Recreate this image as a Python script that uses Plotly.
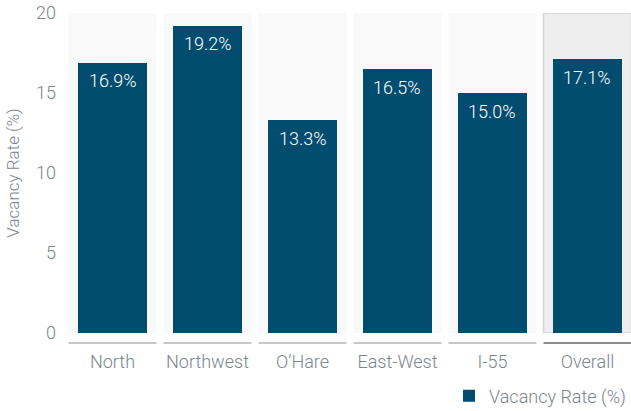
import plotly.graph_objects as go

# Vacancy rate by submarket
categories = ["North", "Northwest", "O\u2019Hare", "East-West", "I-55", "Overall"]
vacancy_rate = [16.9, 19.2, 13.3, 16.5, 15.0, 17.1]
y_ticks = [0, 5, 10, 15, 20]

BAR_COLOR = "#024d6f"
TEXT_GRAY = "#7b858c"
FONT = "Roboto"

x_idx = list(range(len(categories)))

fig = go.Figure()
fig.add_trace(go.Bar(
    x=x_idx,
    y=vacancy_rate,
    width=0.726,
    marker=dict(color=BAR_COLOR, line=dict(width=0)),
    name="Vacancy Rate (%)",
    showlegend=True,
    hoverinfo="skip",
))

shapes = []
for i, cat in enumerate(categories):
    last = i == len(categories) - 1
    # background panel behind each category column
    shapes.append(dict(
        type="rect", xref="x", yref="y", layer="below",
        x0=i - 0.463, x1=i + 0.463, y0=0, y1=20,
        fillcolor="#eeeeee" if last else "#f9f9f9",
        line=dict(color="#d4d4d4", width=1.5) if last else dict(width=0),
    ))
    # underline beneath each category label
    shapes.append(dict(
        type="line", xref="x", yref="paper",
        x0=i - 0.463, x1=i + 0.463, y0=-0.031, y1=-0.031,
        line=dict(color="#8e8e8e" if last else "#c8c8c8", width=2),
    ))

annotations = []
for i, v in enumerate(vacancy_rate):
    annotations.append(dict(
        x=i, y=v, xref="x", yref="y",
        text=f"{v:.1f}%", showarrow=False,
        yanchor="middle", yshift=-18,
        font=dict(family=FONT, size=18, color="white", weight=300),
    ))

fig.update_layout(
    width=631, height=411,
    margin=dict(l=65, r=0, t=13, b=78, autoexpand=False),
    paper_bgcolor="white", plot_bgcolor="white",
    shapes=shapes, annotations=annotations,
    bargap=0,
    xaxis=dict(
        range=[-0.5, 5.458], tickmode="array", tickvals=x_idx, ticktext=categories,
        showgrid=False, zeroline=False, showline=False, ticks="",
        tickfont=dict(family=FONT, size=18, color=TEXT_GRAY, weight=300),
        ticklabelstandoff=16,
    ),
    yaxis=dict(
        range=[0, 20], tickmode="array", tickvals=y_ticks,
        ticktext=[str(t) for t in y_ticks],
        showgrid=False, zeroline=False, showline=False, ticks="",
        tickfont=dict(family=FONT, size=18, color=TEXT_GRAY, weight=300),
        ticklabelstandoff=8,
        title=dict(text="Vacancy Rate (%)", standoff=12,
                   font=dict(family=FONT, size=17, color=TEXT_GRAY, weight=300)),
    ),
    legend=dict(
        x=1, xanchor="right", y=-0.197, yanchor="middle",
        font=dict(family=FONT, size=18, color=TEXT_GRAY, weight=300),
        bgcolor="rgba(0,0,0,0)",
    ),
)

fig.write_html("out.html")
